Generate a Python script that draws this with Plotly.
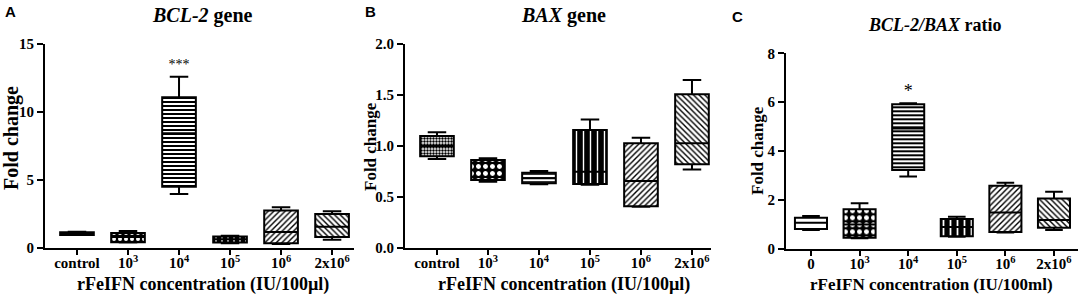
import plotly.graph_objects as go

# ---------------- data ----------------
cats_A = ["control", "10<sup>3</sup>", "10<sup>4</sup>", "10<sup>5</sup>", "10<sup>6</sup>", "2x10<sup>6</sup>"]
cats_B = ["control", "10<sup>3</sup>", "10<sup>4</sup>", "10<sup>5</sup>", "10<sup>6</sup>", "2x10<sup>6</sup>"]
cats_C = ["0", "10<sup>3</sup>", "10<sup>4</sup>", "10<sup>5</sup>", "10<sup>6</sup>", "2x10<sup>6</sup>"]

# Panel A: BCL-2 gene
A_low = [0.95, 0.40, 3.97, 0.35, 0.30, 0.60]
A_q1 = [0.95, 0.42, 4.50, 0.40, 0.35, 0.80]
A_med = [1.05, 0.80, 8.43, 0.65, 1.18, 1.57]
A_q3 = [1.15, 1.10, 11.08, 0.85, 2.75, 2.50]
A_high = [1.20, 1.25, 12.60, 0.90, 3.00, 2.70]
A_sig_cat = ["10<sup>4</sup>"]
A_sig = ["***"]
A_sig_y = [13.4]

# Panel B: BAX gene
B_low = [0.873, 0.650, 0.625, 0.620, 0.405, 0.770]
B_q1 = [0.900, 0.667, 0.634, 0.627, 0.410, 0.820]
B_med = [1.000, 0.765, 0.683, 0.748, 0.657, 1.026]
B_q3 = [1.098, 0.863, 0.738, 1.157, 1.026, 1.507]
B_high = [1.134, 0.880, 0.755, 1.260, 1.080, 1.647]

# Panel C: BCL-2/BAX ratio
C_low = [0.78, 0.44, 2.96, 0.50, 0.67, 0.78]
C_q1 = [0.82, 0.46, 3.23, 0.52, 0.69, 0.87]
C_med = [1.07, 1.00, 4.93, 0.90, 1.49, 1.19]
C_q3 = [1.28, 1.62, 5.92, 1.23, 2.59, 2.06]
C_high = [1.35, 1.87, 5.96, 1.32, 2.71, 2.34]
C_sig_cat = ["10<sup>4</sup>"]
C_sig = ["*"]
C_sig_y = [6.4]

titles = ["<i>BCL-2</i> gene", "<i>BAX</i> gene", "<i>BCL-2/BAX</i> ratio"]
letters = ["A", "B", "C"]
xtitles = ["rFeIFN concentration (IU/100µl)", "rFeIFN concentration (IU/100µl)",
           "rFeIFN concentration (IU/100ml)"]
ytitle = "Fold change"

# fill patterns per category (style)
pat_A = dict(shape=[".", ".", "-", "|", "/", "\\"],
             fgcolor=["black", "white", "black", "white", "black", "black"],
             bgcolor=["black", "black", "white", "black", "white", "white"],
             size=[4, 6, 4, 6, 4, 4], solidity=[0.5, 0.35, 0.5, 0.25, 0.35, 0.35])
pat_B = dict(shape=[".", ".", "-", "|", "/", "\\"],
             fgcolor=["black", "white", "black", "white", "black", "black"],
             bgcolor=["white", "black", "white", "black", "white", "white"],
             size=[3, 7, 4, 7, 4, 4], solidity=[0.5, 0.4, 0.4, 0.2, 0.35, 0.35])
pat_C = dict(shape=["-", ".", "-", "|", "/", "\\"],
             fgcolor=["white", "white", "black", "white", "black", "black"],
             bgcolor=["white", "black", "white", "black", "white", "white"],
             size=[4, 7, 4, 7, 4, 4], solidity=[0.5, 0.4, 0.5, 0.25, 0.35, 0.35])

SERIF = "Liberation Serif"
W, H = 1084, 305

fig = go.Figure()

panels = [
    dict(cats=cats_A, low=A_low, q1=A_q1, med=A_med, q3=A_q3, high=A_high,
         xa="x", ya="y", pat=pat_A),
    dict(cats=cats_B, low=B_low, q1=B_q1, med=B_med, q3=B_q3, high=B_high,
         xa="x2", ya="y2", pat=pat_B),
    dict(cats=cats_C, low=C_low, q1=C_q1, med=C_med, q3=C_q3, high=C_high,
         xa="x3", ya="y3", pat=pat_C),
]

BW = 0.66
for p in panels:
    fig.add_trace(go.Bar(
        x=p["cats"], y=[b - a for a, b in zip(p["q1"], p["q3"])], base=p["q1"],
        width=BW, xaxis=p["xa"], yaxis=p["ya"], showlegend=False, hoverinfo="skip",
        marker=dict(color="white", line=dict(width=0),
                    pattern=dict(shape=p["pat"]["shape"], fgcolor=p["pat"]["fgcolor"],
                                 bgcolor=p["pat"]["bgcolor"], size=p["pat"]["size"],
                                 solidity=p["pat"]["solidity"], fillmode="replace")),
    ))
for p in panels:
    fig.add_trace(go.Box(
        x=p["cats"], q1=p["q1"], median=p["med"], q3=p["q3"],
        lowerfence=p["low"], upperfence=p["high"], width=BW, whiskerwidth=0.55,
        boxpoints=False, xaxis=p["xa"], yaxis=p["ya"], showlegend=False,
        line=dict(color="black", width=2), fillcolor="rgba(0,0,0,0)",
    ))

# significance marks
fig.add_trace(go.Scatter(x=A_sig_cat, y=A_sig_y, text=A_sig, mode="text", xaxis="x", yaxis="y",
                         textfont=dict(family=SERIF, size=14, color="black"), showlegend=False,
                         hoverinfo="skip"))
fig.add_trace(go.Scatter(x=C_sig_cat, y=C_sig_y, text=C_sig, mode="text", xaxis="x3", yaxis="y3",
                         textfont=dict(family=SERIF, size=18, color="black"), showlegend=False,
                         hoverinfo="skip"))

tickfont = dict(family=SERIF, size=15, color="black", weight="bold")
ytickfont = dict(family=SERIF, size=15, color="black", weight="bold")

def xax(domain, rng, cats):
    return dict(domain=domain, range=rng, autorange=False, type="category", categoryorder="array",
                categoryarray=cats, showline=True, linecolor="black", linewidth=2,
                ticks="outside", ticklen=5, tickwidth=2, tickcolor="black", automargin=False,
                ticklabelstandoff=-5,
                showgrid=False, zeroline=False, tickfont=tickfont, fixedrange=True)

def yax(domain, rng, dtick, fmt, anchor):
    return dict(domain=domain, range=rng, autorange=False, dtick=dtick, tick0=0, tickformat=fmt,
                showline=True, linecolor="black", linewidth=2, ticks="outside", automargin=False,
                ticklen=6, tickwidth=2, tickcolor="black", showgrid=False,
                zeroline=False, tickfont=ytickfont, anchor=anchor, fixedrange=True)

yA = [1 - 248 / H, 1 - 44 / H]
yC = [1 - 249 / H, 1 - 53.3 / H]

fig.update_layout(
    template="none",
    width=W, height=H, autosize=False, margin=dict(l=0, r=0, t=0, b=0, pad=0, autoexpand=False),
    paper_bgcolor="white", plot_bgcolor="white", showlegend=False,
    boxmode="overlay", barmode="overlay",
    xaxis=xax([45 / W, 354 / W], [-0.627, 5.43], cats_A) | dict(anchor="y"),
    yaxis=yax(yA, [0, 15], 5, "d", "x"),
    xaxis2=xax([405 / W, 711 / W], [-0.627, 5.373], cats_B) | dict(anchor="y2"),
    yaxis2=yax(yA, [0, 2], 0.5, ".1f", "x2"),
    xaxis3=xax([786 / W, 1078 / W], [-0.514, 5.494], cats_C) | dict(anchor="y3"),
    yaxis3=yax(yC, [0, 8], 2, "d", "x3"),
)

ann = []
# panel letters
for txt, px, py in zip(letters, [3, 363, 730], [12, 12, 16]):
    ann.append(dict(text=txt, x=px / W, y=1 - py / H, xref="paper", yref="paper",
                    xanchor="left", yanchor="middle", showarrow=False,
                    font=dict(family="Liberation Sans", size=15, color="black", weight="bold")))
# titles
for txt, px, py, fs in zip(titles, [202, 563, 935], [15, 15, 25], [20, 20, 18]):
    ann.append(dict(text=txt, x=px / W, y=1 - py / H, xref="paper", yref="paper",
                    xanchor="center", yanchor="middle", showarrow=False,
                    font=dict(family=SERIF, size=fs, color="black", weight="bold")))
# y titles
for px, py, fs in zip([12, 370, 757], [138, 147, 151], [20, 17, 17]):
    ann.append(dict(text=ytitle, x=px / W, y=1 - py / H, xref="paper", yref="paper",
                    xanchor="center", yanchor="middle", showarrow=False, textangle=-90,
                    font=dict(family=SERIF, size=fs, color="black", weight="bold")))
# x titles
for txt, px, py, fs in zip(xtitles, [203, 564, 931], [284, 284, 284], [18, 18, 17]):
    ann.append(dict(text=txt, x=px / W, y=1 - py / H, xref="paper", yref="paper",
                    xanchor="center", yanchor="middle", showarrow=False,
                    font=dict(family=SERIF, size=fs, color="black", weight="bold")))
fig.update_layout(annotations=ann)

fig.write_html("out.html", config={"displayModeBar": False},
               post_script="document.body.style.margin='0';")
